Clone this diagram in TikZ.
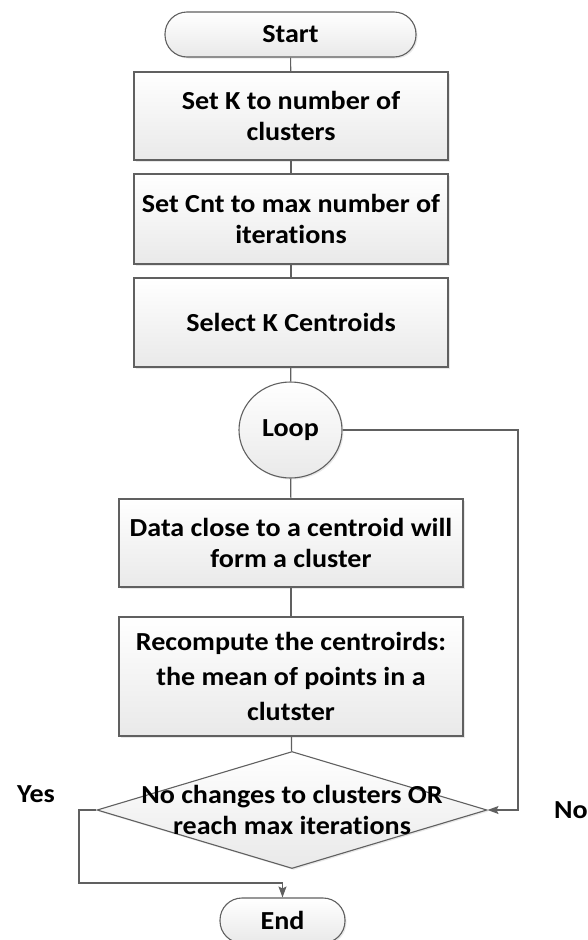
\documentclass[tikz,border=0pt]{standalone}
\usepackage{fontspec}
\setmainfont{Carlito}[FakeStretch=1.08, Ligatures=NoCommon]
\usetikzlibrary{positioning,arrows.meta,shapes.geometric,shadows}
\definecolor{flowLine}{HTML}{606060}
\definecolor{flowFill}{HTML}{E9E9E9}
\tikzset{
  basefont/.style={font=\bfseries\fontsize{26}{31}\selectfont, text=black},
  terminal/.style={rectangle, rounded corners=22pt, draw=flowLine, line width=1.1pt,
    top color=white, bottom color=flowFill, basefont, align=center,
    minimum height=45pt, inner sep=0pt,
    drop shadow={opacity=0.18, shadow xshift=1.5pt, shadow yshift=-1.5pt}},
  process/.style={rectangle, draw=flowLine, line width=1.1pt,
    top color=white, bottom color=flowFill, basefont, align=center,
    inner sep=0pt,
    drop shadow={opacity=0.18, shadow xshift=1.5pt, shadow yshift=-1.5pt}},
  loopnode/.style={ellipse, draw=flowLine, line width=1.1pt,
    top color=white, bottom color=flowFill, basefont,
    minimum width=103pt, minimum height=96pt, inner sep=0pt,
    drop shadow={opacity=0.18, shadow xshift=1.5pt, shadow yshift=-1.5pt}},
  decision/.style={diamond, draw=flowLine, line width=1.1pt,
    top color=white, bottom color=flowFill,
    minimum width=390pt, minimum height=117pt, inner sep=0pt,
    drop shadow={opacity=0.18, shadow xshift=1.5pt, shadow yshift=-1.5pt}},
  link/.style={draw=flowLine, line width=1.1pt},
  flow/.style={-{Stealth[length=11pt, width=8pt, inset=2pt]}, draw=flowLine, line width=1.1pt},
  answer/.style={basefont},
}

\begin{document}
\begin{tikzpicture}[x=1pt, y=-1pt, node distance=0pt]
\useasboundingbox (0,0) rectangle (587,940);

% ---------- Start / setup ----------
\node[terminal, minimum width=251pt] (start) at (290.5,34.5) {Start};

\node[process, minimum width=314pt, minimum height=88pt] (setk) at (291,116)
  {Set K to number of\\clusters};

\node[process, minimum width=314pt, minimum height=90pt] (setcnt) at (291,219)
  {Set Cnt to max number of\\iterations};

\node[process, minimum width=314pt, minimum height=89pt] (select) at (291,322.5)
  {Select K Centroids};

% ---------- Loop body ----------
\node[loopnode] (loop) at (290.5,430) {Loop};

\node[process, minimum width=344pt, minimum height=88pt] (assign) at (291,543)
  {Data close to a centroid will\\form a cluster};

\node[process, minimum width=344pt, minimum height=119pt,
      font=\bfseries\fontsize{26}{35}\selectfont] (recompute) at (291,676.5)
  {Recompute the centroirds:\\the mean of points in a\\clutster};

\node[decision, label={[basefont, align=center]center:No changes to clusters OR\\reach max iterations}]
  (check) at (292,810) {};

% ---------- End ----------
\node[terminal, minimum width=125pt] (finish) at (282.5,920.5) {End};

% ---------- Branch labels ----------
\node[answer] (yes) at (36,794) {Yes};
\node[answer] (no) at (571,810) {No};

% ================= Connectors =================
\draw[link] (start) -- (setk);
\draw[link] (setk) -- (setcnt);
\draw[link] (setcnt) -- (select);
\draw[link] (select) -- (loop);
\draw[link] (loop) -- (assign);
\draw[link] (assign) -- (recompute);
\draw[link] (recompute) -- (check);

% back to the test while clusters still change
\draw[flow] (loop.east) -- (518,430) |- (check.east);

% leave the loop
\draw[flow] (check.west) -- (79,810) |- (282.5,883) -- (finish.north);

\end{tikzpicture}
\end{document}
